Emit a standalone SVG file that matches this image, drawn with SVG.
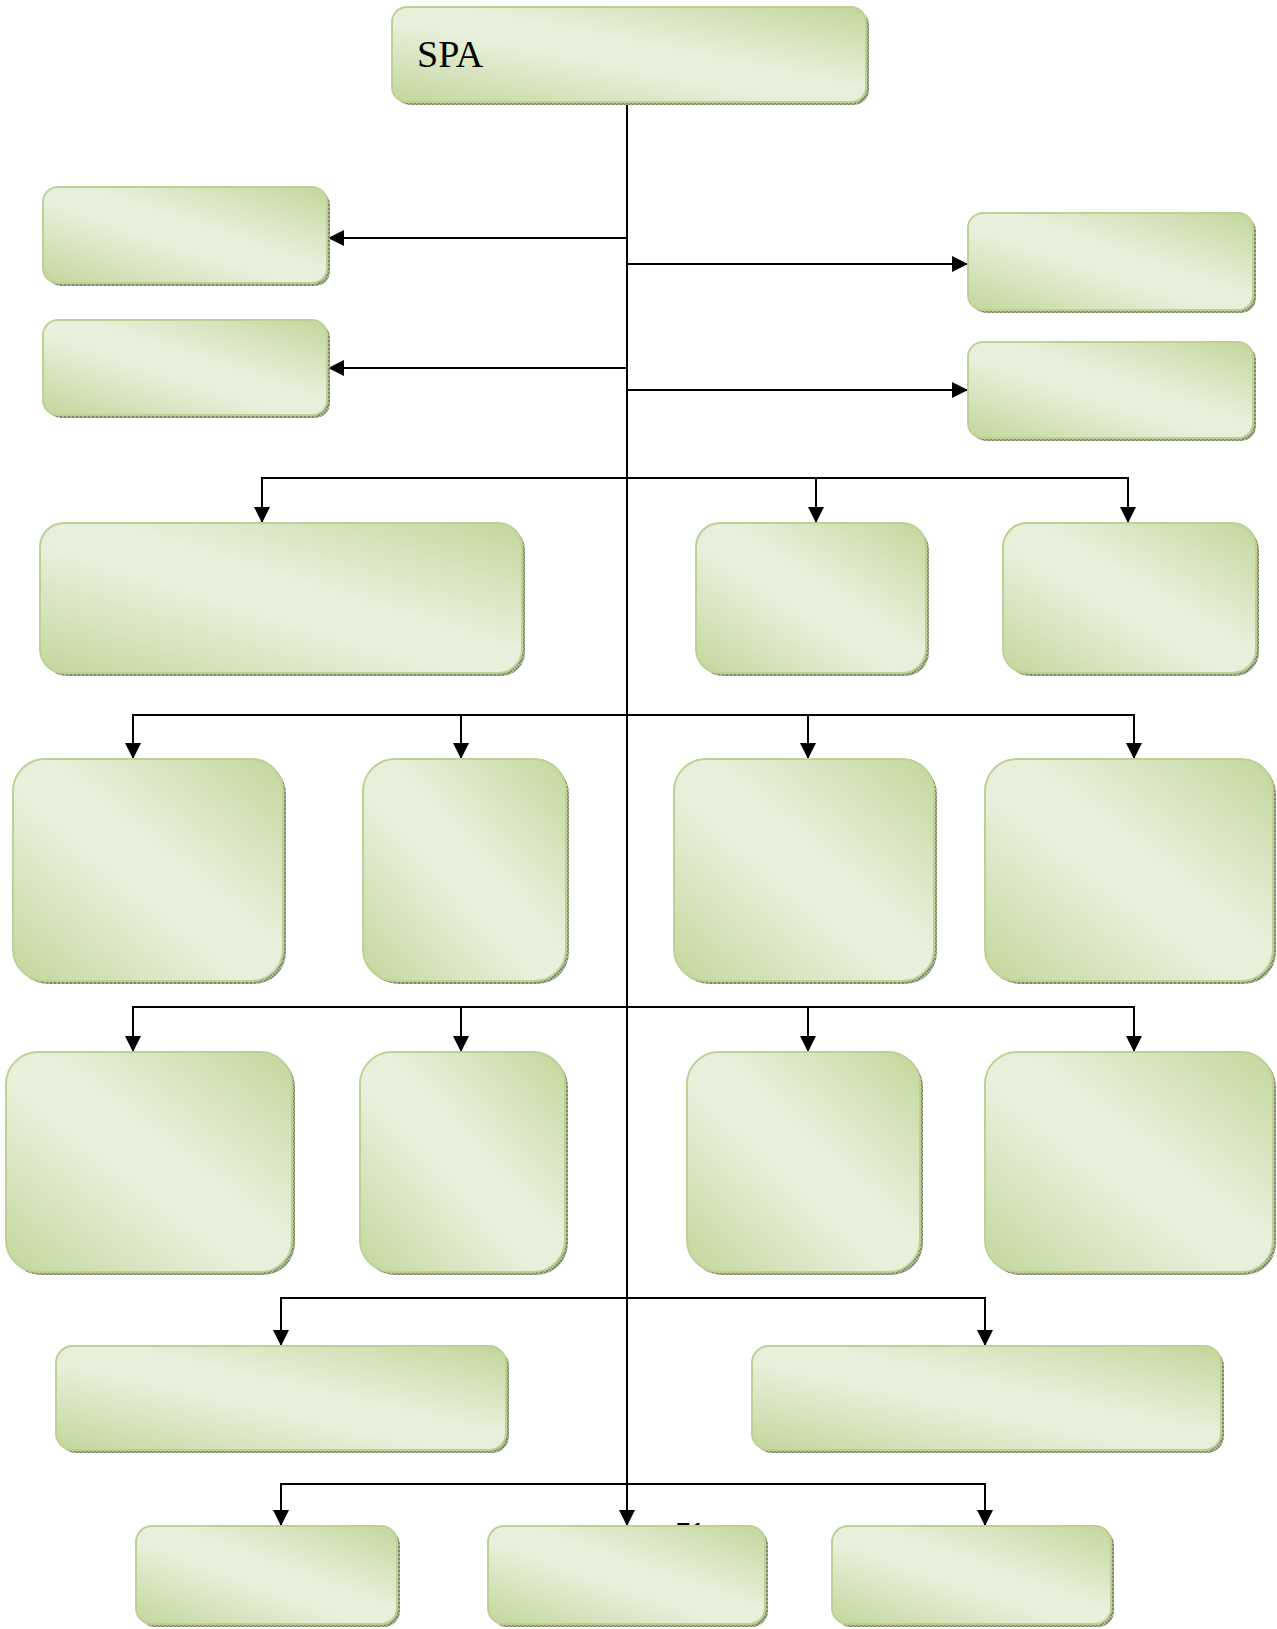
<svg xmlns="http://www.w3.org/2000/svg" width="1277" height="1629" viewBox="0 0 1277 1629">
<defs>
<linearGradient id="g" x1="0" y1="1" x2="1" y2="0">
<stop offset="0" stop-color="#c3d69b"/>
<stop offset="0.42" stop-color="#e8efda"/>
<stop offset="0.58" stop-color="#e8efda"/>
<stop offset="1" stop-color="#c3d69b"/>
</linearGradient>
<pattern id="sh" width="4" height="4" patternUnits="userSpaceOnUse">
<rect width="4" height="4" fill="#a9b596"/>
<rect width="2" height="2" fill="#7d8a68"/>
<rect x="2" y="2" width="2" height="2" fill="#7d8a68"/>
</pattern>
<marker id="ah" markerUnits="userSpaceOnUse" markerWidth="16" markerHeight="16" refX="16" refY="8" orient="auto">
<path d="M0,0 L16,8 L0,16 Z" fill="#000"/>
</marker>
</defs>
<style>
.box rect.s{fill:url(#sh);}
.box rect.b{fill:url(#g);stroke:#bcd294;stroke-width:2;}
.c path{fill:none;stroke:#000;stroke-width:2;marker-end:url(#ah);}
.t{font-family:"Liberation Serif","Times New Roman",serif;fill:#000;}
.pn{font-family:"Liberation Sans",Arial,sans-serif;fill:#000;}
</style>
<text class="pn" x="676" y="1541" font-size="26">71</text>
<g id="connectors" class="c">
<path d="M627,102 V1526"/>
<path d="M627,238 H328"/>
<path d="M627,368 H328"/>
<path d="M627,264 H968"/>
<path d="M627,390 H968"/>
<path d="M627,478 H262 V523"/>
<path d="M627,478 H1128 V523"/>
<path d="M816,478 V523"/>
<path d="M627,715 H133 V759"/>
<path d="M461,715 V759"/>
<path d="M627,715 H1134 V759"/>
<path d="M808,715 V759"/>
<path d="M627,1007 H133 V1052"/>
<path d="M461,1007 V1052"/>
<path d="M627,1007 H1134 V1052"/>
<path d="M808,1007 V1052"/>
<path d="M627,1298 H281 V1346"/>
<path d="M627,1298 H985 V1346"/>
<path d="M627,1484 H281 V1526"/>
<path d="M627,1484 H985 V1526"/>
</g>
<g id="spa" class="box"><rect class="s" x="395" y="10" width="474" height="95" rx="15"/><rect class="b" x="392" y="7" width="474" height="95" rx="15"/><text class="t" x="417" y="67" font-size="38">SPA</text></g>
<g id="l1" class="box"><rect class="s" x="46" y="190" width="284" height="96" rx="15"/><rect class="b" x="43" y="187" width="284" height="96" rx="15"/></g>
<g id="l2" class="box"><rect class="s" x="46" y="323" width="284" height="95" rx="15"/><rect class="b" x="43" y="320" width="284" height="95" rx="15"/></g>
<g id="r1" class="box"><rect class="s" x="971" y="216" width="285" height="97" rx="15"/><rect class="b" x="968" y="213" width="285" height="97" rx="15"/></g>
<g id="r2" class="box"><rect class="s" x="971" y="345" width="285" height="96" rx="15"/><rect class="b" x="968" y="342" width="285" height="96" rx="15"/></g>
<g id="a1" class="box"><rect class="s" x="43" y="526" width="482" height="150" rx="24"/><rect class="b" x="40" y="523" width="482" height="150" rx="24"/></g>
<g id="a2" class="box"><rect class="s" x="699" y="526" width="230" height="150" rx="24"/><rect class="b" x="696" y="523" width="230" height="150" rx="24"/></g>
<g id="a3" class="box"><rect class="s" x="1006" y="526" width="253" height="150" rx="24"/><rect class="b" x="1003" y="523" width="253" height="150" rx="24"/></g>
<g id="b1" class="box"><rect class="s" x="16" y="762" width="270" height="222" rx="32"/><rect class="b" x="13" y="759" width="270" height="222" rx="32"/></g>
<g id="b2" class="box"><rect class="s" x="366" y="762" width="203" height="222" rx="32"/><rect class="b" x="363" y="759" width="203" height="222" rx="32"/></g>
<g id="b3" class="box"><rect class="s" x="677" y="762" width="260" height="222" rx="32"/><rect class="b" x="674" y="759" width="260" height="222" rx="32"/></g>
<g id="b4" class="box"><rect class="s" x="988" y="762" width="288" height="222" rx="32"/><rect class="b" x="985" y="759" width="288" height="222" rx="32"/></g>
<g id="c1" class="box"><rect class="s" x="9" y="1055" width="286" height="220" rx="32"/><rect class="b" x="6" y="1052" width="286" height="220" rx="32"/></g>
<g id="c2" class="box"><rect class="s" x="363" y="1055" width="205" height="220" rx="32"/><rect class="b" x="360" y="1052" width="205" height="220" rx="32"/></g>
<g id="c3" class="box"><rect class="s" x="690" y="1055" width="233" height="220" rx="32"/><rect class="b" x="687" y="1052" width="233" height="220" rx="32"/></g>
<g id="c4" class="box"><rect class="s" x="988" y="1055" width="288" height="220" rx="32"/><rect class="b" x="985" y="1052" width="288" height="220" rx="32"/></g>
<g id="d1" class="box"><rect class="s" x="59" y="1349" width="450" height="104" rx="17"/><rect class="b" x="56" y="1346" width="450" height="104" rx="17"/></g>
<g id="d2" class="box"><rect class="s" x="755" y="1349" width="469" height="104" rx="17"/><rect class="b" x="752" y="1346" width="469" height="104" rx="17"/></g>
<g id="e1" class="box"><rect class="s" x="139" y="1529" width="261" height="98" rx="16"/><rect class="b" x="136" y="1526" width="261" height="98" rx="16"/></g>
<g id="e2" class="box"><rect class="s" x="491" y="1529" width="277" height="98" rx="16"/><rect class="b" x="488" y="1526" width="277" height="98" rx="16"/></g>
<g id="e3" class="box"><rect class="s" x="835" y="1529" width="279" height="98" rx="16"/><rect class="b" x="832" y="1526" width="279" height="98" rx="16"/></g>
</svg>
